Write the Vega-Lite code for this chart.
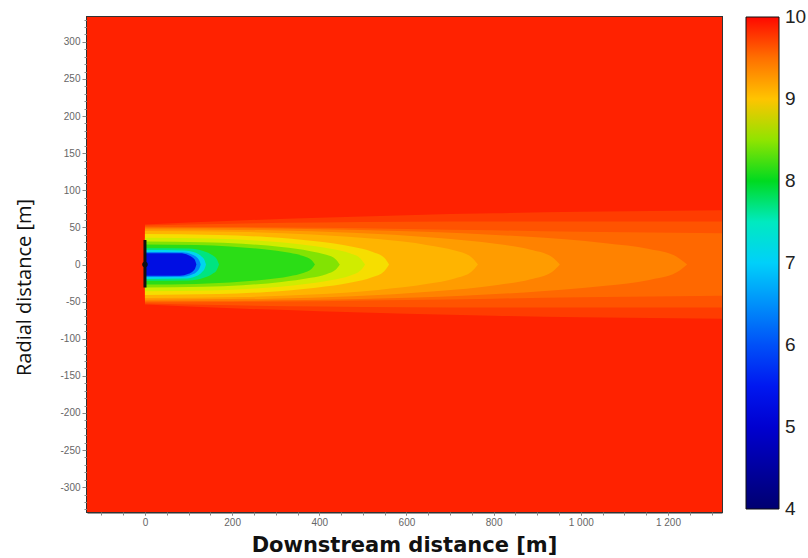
{
  "$schema": "https://vega.github.io/schema/vega-lite/v6.json",
  "width": 635,
  "height": 495,
  "autosize": "none",
  "padding": {"left": 87, "top": 17, "right": 86, "bottom": 46},
  "background": "white",
  "view": {"stroke": "#333333", "strokeWidth": 2},
  "config": {"axis": {"grid": false, "labelOverlap": false}},
  "resolve": {"axis": {"x": "independent", "y": "independent"}},
  "datasets": {
    "field": [
      {"b": "00", "v": 9.9, "x": -133, "lo": -333.5, "hi": 333.5},
      {"b": "00", "v": 9.9, "x": 1324, "lo": -333.5, "hi": 333.5},
      {"b": "01", "v": 9.8, "x": 0, "lo": -54, "hi": 54},
      {"b": "01", "v": 9.8, "x": 200, "lo": -59, "hi": 59},
      {"b": "01", "v": 9.8, "x": 400, "lo": -63, "hi": 63},
      {"b": "01", "v": 9.8, "x": 600, "lo": -66.5, "hi": 66.5},
      {"b": "01", "v": 9.8, "x": 800, "lo": -69, "hi": 69},
      {"b": "01", "v": 9.8, "x": 1000, "lo": -71, "hi": 71},
      {"b": "01", "v": 9.8, "x": 1324, "lo": -73, "hi": 73},
      {"b": "02", "v": 9.68, "x": 0, "lo": -52.5, "hi": 52.5},
      {"b": "02", "v": 9.68, "x": 200, "lo": -55, "hi": 55},
      {"b": "02", "v": 9.68, "x": 400, "lo": -56.5, "hi": 56.5},
      {"b": "02", "v": 9.68, "x": 600, "lo": -57.5, "hi": 57.5},
      {"b": "02", "v": 9.68, "x": 800, "lo": -58, "hi": 58},
      {"b": "02", "v": 9.68, "x": 1000, "lo": -58, "hi": 58},
      {"b": "02", "v": 9.68, "x": 1324, "lo": -58, "hi": 58},
      {"b": "03", "v": 9.55, "x": 0, "lo": -51, "hi": 51},
      {"b": "03", "v": 9.55, "x": 200, "lo": -50.5, "hi": 50.5},
      {"b": "03", "v": 9.55, "x": 400, "lo": -49.5, "hi": 49.5},
      {"b": "03", "v": 9.55, "x": 600, "lo": -48, "hi": 48},
      {"b": "03", "v": 9.55, "x": 800, "lo": -46, "hi": 46},
      {"b": "03", "v": 9.55, "x": 1000, "lo": -44, "hi": 44},
      {"b": "03", "v": 9.55, "x": 1324, "lo": -42, "hi": 42},
      {"b": "04", "v": 9.4, "x": 0, "lo": -49.5, "hi": 49.5},
      {"b": "04", "v": 9.4, "x": 373, "lo": -48, "hi": 48},
      {"b": "04", "v": 9.4, "x": 622, "lo": -44.6, "hi": 44.6},
      {"b": "04", "v": 9.4, "x": 871, "lo": -37.6, "hi": 37.6},
      {"b": "04", "v": 9.4, "x": 1057, "lo": -28.7, "hi": 28.7},
      {"b": "04", "v": 9.4, "x": 1157, "lo": -20.8, "hi": 20.8},
      {"b": "04", "v": 9.4, "x": 1219, "lo": -10.9, "hi": 10.9},
      {"b": "04", "v": 9.4, "x": 1244, "lo": 0, "hi": 0},
      {"b": "05", "v": 9.25, "x": 0, "lo": -47.5, "hi": 47.5},
      {"b": "05", "v": 9.25, "x": 286, "lo": -46, "hi": 46},
      {"b": "05", "v": 9.25, "x": 476, "lo": -42.8, "hi": 42.8},
      {"b": "05", "v": 9.25, "x": 666, "lo": -36.1, "hi": 36.1},
      {"b": "05", "v": 9.25, "x": 809, "lo": -27.6, "hi": 27.6},
      {"b": "05", "v": 9.25, "x": 885, "lo": -20, "hi": 20},
      {"b": "05", "v": 9.25, "x": 933, "lo": -10.5, "hi": 10.5},
      {"b": "05", "v": 9.25, "x": 952, "lo": 0, "hi": 0},
      {"b": "06", "v": 9.1, "x": 0, "lo": -45, "hi": 45},
      {"b": "06", "v": 9.1, "x": 229, "lo": -43.7, "hi": 43.7},
      {"b": "06", "v": 9.1, "x": 382, "lo": -40.5, "hi": 40.5},
      {"b": "06", "v": 9.1, "x": 535, "lo": -34.2, "hi": 34.2},
      {"b": "06", "v": 9.1, "x": 649, "lo": -26.1, "hi": 26.1},
      {"b": "06", "v": 9.1, "x": 711, "lo": -18.9, "hi": 18.9},
      {"b": "06", "v": 9.1, "x": 749, "lo": -9.9, "hi": 9.9},
      {"b": "06", "v": 9.1, "x": 764, "lo": 0, "hi": 0},
      {"b": "07", "v": 8.88, "x": 0, "lo": -41, "hi": 41},
      {"b": "07", "v": 8.88, "x": 168, "lo": -39.8, "hi": 39.8},
      {"b": "07", "v": 8.88, "x": 280, "lo": -36.9, "hi": 36.9},
      {"b": "07", "v": 8.88, "x": 392, "lo": -31.2, "hi": 31.2},
      {"b": "07", "v": 8.88, "x": 476, "lo": -23.8, "hi": 23.8},
      {"b": "07", "v": 8.88, "x": 521, "lo": -17.2, "hi": 17.2},
      {"b": "07", "v": 8.88, "x": 549, "lo": -9, "hi": 9},
      {"b": "07", "v": 8.88, "x": 560, "lo": 0, "hi": 0},
      {"b": "08", "v": 8.7, "x": 0, "lo": -36, "hi": 36},
      {"b": "08", "v": 8.7, "x": 152, "lo": -35, "hi": 35},
      {"b": "08", "v": 8.7, "x": 253, "lo": -32.4, "hi": 32.4},
      {"b": "08", "v": 8.7, "x": 354, "lo": -27.4, "hi": 27.4},
      {"b": "08", "v": 8.7, "x": 429, "lo": -20.9, "hi": 20.9},
      {"b": "08", "v": 8.7, "x": 470, "lo": -15.1, "hi": 15.1},
      {"b": "08", "v": 8.7, "x": 495, "lo": -7.9, "hi": 7.9},
      {"b": "08", "v": 8.7, "x": 505, "lo": 0, "hi": 0},
      {"b": "09", "v": 8.45, "x": 0, "lo": -31, "hi": 31},
      {"b": "09", "v": 8.45, "x": 134, "lo": -30, "hi": 30},
      {"b": "09", "v": 8.45, "x": 224, "lo": -27.9, "hi": 27.9},
      {"b": "09", "v": 8.45, "x": 313, "lo": -23.6, "hi": 23.6},
      {"b": "09", "v": 8.45, "x": 380, "lo": -18, "hi": 18},
      {"b": "09", "v": 8.45, "x": 416, "lo": -13, "hi": 13},
      {"b": "09", "v": 8.45, "x": 438, "lo": -6.8, "hi": 6.8},
      {"b": "09", "v": 8.45, "x": 447, "lo": 0, "hi": 0},
      {"b": "10", "v": 8.15, "x": 0, "lo": -27, "hi": 27},
      {"b": "10", "v": 8.15, "x": 117, "lo": -26.2, "hi": 26.2},
      {"b": "10", "v": 8.15, "x": 195, "lo": -24.3, "hi": 24.3},
      {"b": "10", "v": 8.15, "x": 273, "lo": -20.5, "hi": 20.5},
      {"b": "10", "v": 8.15, "x": 332, "lo": -15.7, "hi": 15.7},
      {"b": "10", "v": 8.15, "x": 363, "lo": -11.3, "hi": 11.3},
      {"b": "10", "v": 8.15, "x": 382, "lo": -5.9, "hi": 5.9},
      {"b": "10", "v": 8.15, "x": 390, "lo": 0, "hi": 0},
      {"b": "11", "v": 7.7, "x": 0, "lo": -22, "hi": 22},
      {"b": "11", "v": 7.7, "x": 100, "lo": -21.5, "hi": 21.5},
      {"b": "11", "v": 7.7, "x": 135, "lo": -18, "hi": 18},
      {"b": "11", "v": 7.7, "x": 155, "lo": -12.5, "hi": 12.5},
      {"b": "11", "v": 7.7, "x": 165, "lo": -7, "hi": 7},
      {"b": "11", "v": 7.7, "x": 170, "lo": 0, "hi": 0},
      {"b": "12", "v": 7.1, "x": 0, "lo": -19.5, "hi": 19.5},
      {"b": "12", "v": 7.1, "x": 90, "lo": -19, "hi": 19},
      {"b": "12", "v": 7.1, "x": 118, "lo": -15.5, "hi": 15.5},
      {"b": "12", "v": 7.1, "x": 131, "lo": -10, "hi": 10},
      {"b": "12", "v": 7.1, "x": 137, "lo": -5.5, "hi": 5.5},
      {"b": "12", "v": 7.1, "x": 140, "lo": 0, "hi": 0},
      {"b": "13", "v": 6.4, "x": 0, "lo": -17, "hi": 17},
      {"b": "13", "v": 6.4, "x": 85, "lo": -16.5, "hi": 16.5},
      {"b": "13", "v": 6.4, "x": 108, "lo": -13.5, "hi": 13.5},
      {"b": "13", "v": 6.4, "x": 120, "lo": -9, "hi": 9},
      {"b": "13", "v": 6.4, "x": 125, "lo": -5, "hi": 5},
      {"b": "13", "v": 6.4, "x": 128, "lo": 0, "hi": 0},
      {"b": "14", "v": 5.3, "x": 0, "lo": -15, "hi": 15},
      {"b": "14", "v": 5.3, "x": 80, "lo": -15, "hi": 15},
      {"b": "14", "v": 5.3, "x": 100, "lo": -12.5, "hi": 12.5},
      {"b": "14", "v": 5.3, "x": 110, "lo": -9, "hi": 9},
      {"b": "14", "v": 5.3, "x": 115, "lo": -5.5, "hi": 5.5},
      {"b": "14", "v": 5.3, "x": 118, "lo": 0, "hi": 0}
    ],
    "src": [
      {"x": 0, "lo": -31, "hi": 33, "c": 0}
    ]
  },
  "layer": [
    {
      "data": {"name": "field"},
      "mark": {"type": "area", "interpolate": "monotone", "clip": true},
      "encoding": {
        "x": {
          "field": "x", "type": "quantitative",
          "scale": {"domain": [-133, 1324], "nice": false, "zero": false},
          "axis": {
            "orient": "bottom",
            "title": "Downstream distance [m]",
            "values": [0, 200, 400, 600, 800, 1000, 1200],
            "tickCount": 200,
            "labelExpr": "datum.value >= 1000 ? replace(format(datum.value, ','), ',', ' ') : '' + datum.value",
            "labelOverlap": false,
            "labelFlush": false,
            "labelFont": "Liberation Sans",
            "labelFontSize": 10,
            "labelColor": "#666666",
            "labelPadding": 2,
            "tickSize": 3,
            "tickColor": "#888888",
            "domain": true,
            "domainColor": "#333333",
            "domainWidth": 2,
            "titleFont": "DejaVu Sans",
            "titleFontSize": 21,
            "titleFontWeight": "bold",
            "titleColor": "#111111",
            "titleX": 317,
            "titleY": 33,
            "titleBaseline": "middle",
            "titleAlign": "center"
          }
        },
        "y": {
          "field": "lo", "type": "quantitative", "stack": null,
          "scale": {"domain": [-333.5, 333.5], "nice": false, "zero": false},
          "axis": {
            "orient": "left",
            "title": "Radial distance [m]",
            "values": [-300, -250, -200, -150, -100, -50, 0, 50, 100, 150, 200, 250, 300],
            "tickCount": 200,
            "labelExpr": "datum.value < 0 ? '-' + abs(datum.value) : '' + datum.value",
            "labelOverlap": false,
            "labelFlush": false,
            "labelFont": "Liberation Sans",
            "labelFontSize": 10,
            "labelColor": "#666666",
            "labelPadding": 2,
            "tickSize": 5,
            "tickColor": "#888888",
            "domain": true,
            "domainColor": "#333333",
            "domainWidth": 2,
            "titleFont": "Open Sans",
            "titleFontSize": 20,
            "titleFontWeight": "normal",
            "titleColor": "#111111",
            "titleX": -63,
            "titleY": 270,
            "titleAngle": -90,
            "titleAlign": "center",
            "titleBaseline": "middle"
          }
        },
        "y2": {"field": "hi"},
        "detail": {"field": "b", "type": "nominal"},
        "color": {
          "field": "v", "type": "quantitative",
          "scale": {
            "domain": [4, 4.5, 5, 5.5, 6, 6.5, 7, 7.5, 8, 8.5, 8.8, 9, 9.3, 9.5, 9.7, 9.8, 10],
            "range": ["#000070", "#0000A0", "#0000D0", "#0018F0", "#0050F8", "#0090FA", "#00D0FA", "#00EAC0", "#00DA20", "#90E400", "#F0F000", "#FFC400", "#FF9400", "#FF7000", "#FF5000", "#FF3C00", "#FF0800"],
            "interpolate": "rgb"
          },
          "legend": {
            "orient": "none",
            "legendX": 659,
            "legendY": 0,
            "title": null,
            "direction": "vertical",
            "gradientLength": 492,
            "gradientThickness": 33,
            "gradientStrokeColor": "#111111",
            "gradientStrokeWidth": 1,
            "values": [4.0001, 5, 6, 7, 8, 9, 9.9999],
            "labelExpr": "'' + round(datum.value)",
            "labelOverlap": false,
            "labelFont": "Liberation Sans",
            "labelFontSize": 19,
            "labelColor": "#222222",
            "labelOffset": 6,
            "labelBaseline": "middle"
          }
        }
      }
    },
    {
      "data": {"name": "src"},
      "mark": {"type": "rule", "color": "#111111", "strokeWidth": 3},
      "encoding": {
        "x": {
          "field": "x", "type": "quantitative",
          "axis": {
            "orient": "bottom",
            "title": null,
            "labels": false,
            "domain": false,
            "values": [-100, -50, 0, 50, 100, 150, 200, 250, 300, 350, 400, 450, 500, 550, 600, 650, 700, 750, 800, 850, 900, 950, 1000, 1050, 1100, 1150, 1200, 1250, 1300],
            "tickCount": 200,
            "tickSize": 3,
            "tickColor": "#888888"
          }
        },
        "y": {
          "field": "lo", "type": "quantitative",
          "axis": {
            "orient": "left",
            "title": null,
            "labels": false,
            "domain": false,
            "values": [-330, -320, -310, -290, -280, -270, -260, -240, -230, -220, -210, -190, -180, -170, -160, -140, -130, -120, -110, -90, -80, -70, -60, -40, -30, -20, -10, 10, 20, 30, 40, 60, 70, 80, 90, 110, 120, 130, 140, 160, 170, 180, 190, 210, 220, 230, 240, 260, 270, 280, 290, 310, 320, 330],
            "tickCount": 200,
            "tickSize": 3,
            "tickColor": "#888888"
          }
        },
        "y2": {"field": "hi"}
      }
    },
    {
      "data": {"name": "src"},
      "mark": {"type": "point", "filled": true, "color": "#111111", "size": 30, "opacity": 1},
      "encoding": {
        "x": {"field": "x", "type": "quantitative", "axis": null},
        "y": {"field": "c", "type": "quantitative", "axis": null}
      }
    }
  ]
}
